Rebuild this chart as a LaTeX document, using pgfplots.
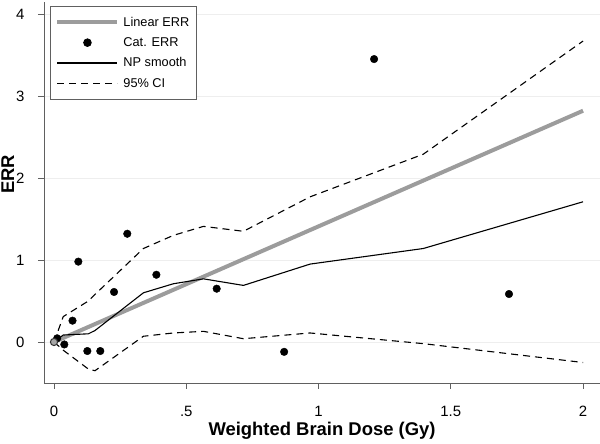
\documentclass[border=0pt]{standalone}
\usepackage{pgfplots}
\pgfplotsset{compat=1.18}
\usepackage{fontspec}
\setmainfont{Liberation Sans}
\definecolor{linegray}{HTML}{9C9C9C}
\definecolor{gridgray}{HTML}{EEEEEE}
\definecolor{axgray}{HTML}{606060}
\pgfplotsset{
  longline legend/.style={legend image code/.code={\draw[##1] (0bp,0bp) -- (60bp,0bp);}},
  longmark legend/.style={legend image code/.code={\draw[mark repeat=2,mark phase=2,##1] plot coordinates {(0bp,0bp) (30bp,0bp) (60bp,0bp)};}},
}
\begin{document}
\begin{tikzpicture}
\begin{axis}[
  at={(44bp,61bp)}, anchor=south west,
  scale only axis,
  width=556bp, height=381bp,
  xmin=-0.0378, xmax=2.064,
  ymin=-0.5, ymax=4.146,
  axis lines*=left,
  axis line style={axgray, line width=0.9bp},
  xtick={0,0.5,1,1.5,2},
  xticklabels={0,.5,1,1.5,2},
  ytick={0,1,2,3,4},
  tick style={axgray, line width=0.9bp},
  tick align=outside,
  major tick length=6bp,
  ymajorgrids,
  grid style={gridgray, line width=0.9bp},
  /pgf/number format/assume math mode=true,
  tick label style={font=\fontsize{15}{17}\selectfont},
  xticklabel style={anchor=center, yshift=-22bp},
  yticklabel style={anchor=east, xshift=-10bp},
  xlabel={\textbf{Weighted Brain Dose (Gy)}},
  ylabel={\textbf{ERR}},
  label style={font=\fontsize{18.5}{22}\selectfont},
  xlabel style={at={(axis description cs:0.5,-0.126)}, anchor=center},
  ylabel style={at={(axis description cs:-0.065,0.548)}, anchor=center, rotate=0},
  legend cell align=left,
  legend style={at={(0.0108,0.9895)}, anchor=north west, draw=axgray, line width=0.9bp,
    font=\fontsize{12.8}{15}\selectfont, row sep=5.8bp, column sep=2bp,
    inner xsep=5bp, inner ysep=8.5bp},
]
\addplot[linegray, line width=4bp, longline legend]
  coordinates {(0,0) (2.0,2.82)};
\addlegendentry{Linear ERR}
\addplot[only marks, mark=*, mark size=3.8bp, black, longmark legend]
  coordinates {
  (0.012,0.045) (0.039,-0.03) (0.07,0.26) (0.092,0.98) (0.126,-0.11) (0.175,-0.11)
  (0.227,0.61) (0.277,1.32) (0.387,0.82) (0.615,0.65) (0.87,-0.12) (1.21,3.45) (1.72,0.585)
  };
\addlegendentry{Cat. ERR}
\addplot[black, line width=1.1bp, longline legend]
  coordinates {(0,0) (0.035,0.085) (0.13,0.1) (0.155,0.14) (0.338,0.6) (0.451,0.71) (0.565,0.77)
  (0.716,0.69) (0.968,0.95) (1.396,1.14) (2.0,1.71)};
\addlegendentry{NP smooth}
\addplot[black, line width=1.1bp, dash pattern=on 7bp off 5bp, longline legend]
  coordinates {(0,0) (0.035,0.31) (0.13,0.5) (0.155,0.58) (0.338,1.14) (0.451,1.30) (0.565,1.41)
  (0.716,1.35) (0.968,1.77) (1.396,2.29) (2.0,3.67)};
\addlegendentry{95\% CI}
\addplot[black, line width=1.1bp, dash pattern=on 7bp off 5bp, forget plot]
  coordinates {(0,0) (0.035,-0.1) (0.13,-0.33) (0.155,-0.35) (0.338,0.07) (0.451,0.11) (0.565,0.13)
  (0.716,0.04) (0.968,0.11) (1.396,-0.02) (2.0,-0.25)};
\addplot[only marks, mark=*, mark size=3.6bp, mark options={draw=black!80, fill=gray!70, line width=1bp}, forget plot]
  coordinates {(0,0)};
\end{axis}
\pgfresetboundingbox
\path (0,0) rectangle (600bp,444bp);
\end{tikzpicture}
\end{document}
